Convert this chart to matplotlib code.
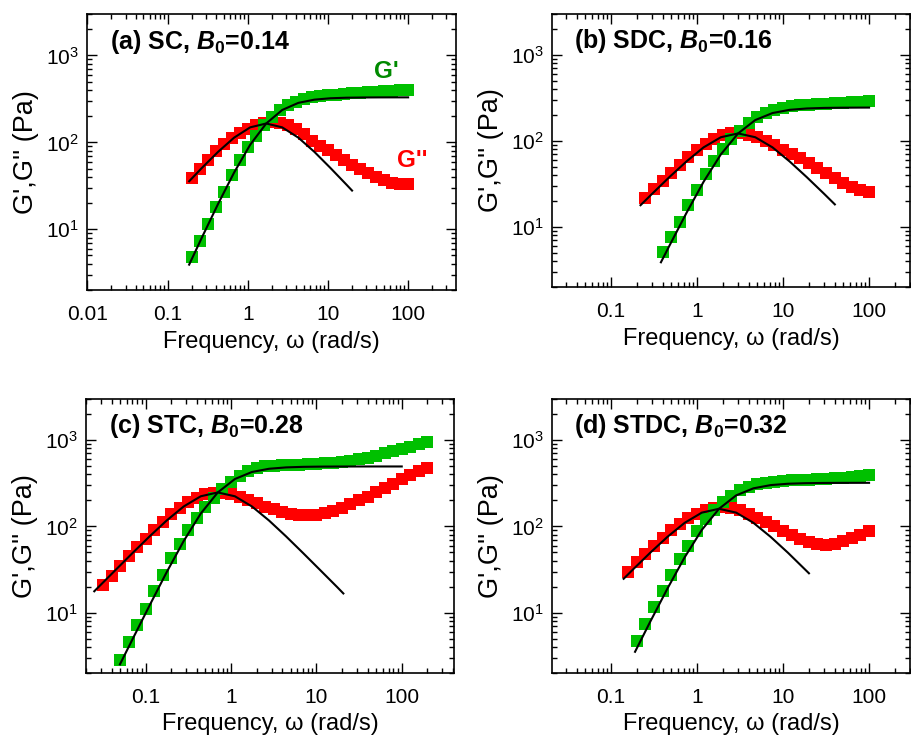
import matplotlib
import matplotlib.pyplot as plt
from matplotlib.ticker import FixedLocator, FuncFormatter, LogLocator, NullFormatter

matplotlib.use('Agg')

plt.rcParams['font.family'] = ['Liberation Sans', 'DejaVu Sans']
plt.rcParams['mathtext.fontset'] = 'custom'
plt.rcParams['mathtext.rm'] = 'Liberation Sans'
plt.rcParams['mathtext.it'] = 'Liberation Sans:italic'
plt.rcParams['mathtext.bf'] = 'Liberation Sans:bold'
plt.rcParams['mathtext.bfit'] = 'Liberation Sans:italic:bold'

# ---- (a) SC ----
w_a = [0.2, 0.251, 0.316, 0.398, 0.501, 0.631, 0.794, 1.0, 1.26, 1.58, 2.0, 2.51, 3.16, 3.98,
       5.01, 6.31, 7.94, 10, 12.6, 15.8, 20, 25.1, 31.6, 39.8, 50.1, 63.1, 79.4, 100]
gp_a = [4.8, 7.4, 11.5, 18, 27, 42, 62, 88, 120, 157, 196, 234, 268, 295,
        315, 330, 340, 348, 355, 362, 368, 374, 379, 384, 389, 393, 397, 402]
gpp_a = [39, 50, 63, 79, 97, 113, 128, 144, 157, 166, 171, 166, 157, 141,
         124, 105, 92, 81, 71, 62, 55, 50, 45, 40, 36.5, 34, 33, 33]
fit_w_gp_a = [0.186, 0.269, 0.427, 0.677, 1.073, 1.7, 2.69, 4.27, 6.77, 10.7, 17.0, 26.9, 42.7, 67.7, 100]
fit_gp_a = [3.92, 8.09, 19.6, 45.1, 94.0, 165, 236, 284.9, 310.4, 321.9, 326.7, 328.7, 329.5, 329.8, 329.9]
fit_w_gpp_a = [0.186, 0.269, 0.427, 0.677, 1.073, 1.7, 2.69, 4.27, 6.77, 10.7, 17.0, 20]
fit_gpp_a = [35.7, 51.0, 77.9, 113.5, 149.0, 165, 149.0, 113.5, 77.9, 51.0, 32.7, 27.9]

# ---- (b) SDC ----
w_gp_b = [0.398, 0.501, 0.631, 0.794, 1.0, 1.26, 1.58, 2.0, 2.51, 3.16, 3.98, 5.01, 6.31,
          7.94, 10, 12.6, 15.8, 20, 25.1, 31.6, 39.8, 50.1, 63.1, 79.4, 100]
gp_b = [5.1, 7.7, 11.5, 17.9, 27, 41, 59, 81, 105, 131, 161, 188, 212,
        230, 243, 252, 259, 264, 268, 272, 276, 280, 284, 288, 292]
w_gpp_b = [0.251, 0.316, 0.398, 0.501, 0.631, 0.794, 1.0, 1.26, 1.58, 2.0, 2.51, 3.16, 3.98, 5.01,
           6.31, 7.94, 10, 12.6, 15.8, 20, 25.1, 31.6, 39.8, 50.1, 63.1, 79.4, 100]
gpp_b = [21.7, 27.3, 34, 42.6, 52.6, 64.5, 79, 92, 105, 117, 124, 124, 117, 110,
         101, 90, 79, 71, 63, 56, 49, 42.7, 37, 32.7, 29, 26.6, 25.4]
fit_w_gp_b = [0.38, 0.475, 0.754, 1.19, 1.89, 3.0, 4.75, 7.54, 11.9, 18.9, 30, 47.5, 75.4, 100]
fit_gp_b = [3.88, 6.0, 14.6, 33.5, 69.8, 122.5, 175.2, 211.5, 230.4, 239.0, 242.6, 244.0, 244.6, 244.8]
fit_w_gpp_b = [0.22, 0.30, 0.475, 0.754, 1.19, 1.89, 3.0, 4.75, 7.54, 11.9, 18.9, 30, 40]
fit_gpp_b = [17.9, 24.3, 37.9, 57.9, 84.3, 110.6, 122.5, 110.6, 84.3, 57.9, 37.9, 24.3, 18.3]

# ---- (c) STC ----
w_gp_c = [0.0501, 0.0631, 0.0794, 0.1, 0.126, 0.158, 0.2, 0.251, 0.316, 0.398, 0.501, 0.631, 0.794,
          1.0, 1.26, 1.58, 2.0, 2.51, 3.16, 3.98, 5.01, 6.31, 7.94, 10, 12.6, 15.8, 20, 25.1,
          31.6, 39.8, 50.1, 63.1, 79.4, 100, 126, 158, 200]
gp_c = [2.84, 4.6, 7.1, 11.1, 17.7, 27.6, 42.5, 63, 92, 126, 169, 216, 274,
        327, 385, 433, 469, 495, 502, 508, 513, 518, 524, 530, 538, 548, 560, 578,
        600, 628, 662, 700, 745, 790, 840, 895, 955]
w_gpp_c = [0.0316, 0.0398, 0.0501, 0.0631, 0.0794, 0.1, 0.126, 0.158, 0.2, 0.251, 0.316, 0.398, 0.501,
           0.631, 0.794, 1.0, 1.26, 1.58, 2.0, 2.51, 3.16, 3.98, 5.01, 6.31, 7.94, 10, 12.6,
           15.8, 20, 25.1, 31.6, 39.8, 50.1, 63.1, 79.4, 100, 126, 158, 200]
gpp_c = [21.2, 26.4, 35, 45, 58, 72, 91, 113, 138, 165, 192, 216, 236,
         246, 246, 236, 221, 202, 185, 168, 158, 148, 141, 137, 135, 137, 142,
         152, 165, 182, 200, 222, 248, 278, 310, 350, 395, 440, 480]
fit_w_gp_c = [0.05, 0.07, 0.111, 0.176, 0.279, 0.442, 0.7, 1.11, 1.76, 2.79, 4.42, 7.0, 11.1,
              17.6, 27.9, 44.2, 100]
fit_gp_c = [2.52, 4.90, 12.1, 29.4, 67.7, 140.9, 247.5, 354.1, 427.3, 465.6, 482.9, 490.1, 493.0,
            494.2, 494.7, 495, 495]
fit_w_gpp_c = [0.025, 0.0442, 0.07, 0.111, 0.176, 0.279, 0.442, 0.7, 1.11, 1.76, 2.79, 4.42, 7.0,
               11.1, 17.6, 20.7]
fit_gpp_c = [17.7, 31.1, 49.0, 76.5, 116.9, 170.2, 223.4, 247.5, 223.4, 170.2, 116.9, 76.5, 49.0,
             31.1, 19.7, 16.7]

# ---- (d) STDC ----
w_gp_d = [0.2, 0.251, 0.316, 0.398, 0.501, 0.631, 0.794, 1.0, 1.26, 1.58, 2.0, 2.51, 3.16, 3.98,
          5.01, 6.31, 7.94, 10, 12.6, 15.8, 20, 25.1, 31.6, 39.8, 50.1, 63.1, 79.4, 100]
gp_d = [4.7, 7.3, 11.5, 17.8, 27, 41.5, 60, 88, 121, 153, 191, 228, 261, 290,
        312, 322, 330, 337, 341, 345, 349, 352, 356, 360, 365, 372, 380, 390]
w_gpp_d = [0.158, 0.2, 0.251, 0.316, 0.398, 0.501, 0.631, 0.794, 1.0, 1.26, 1.58, 2.0, 2.51, 3.16,
           3.98, 5.01, 6.31, 7.94, 10, 12.6, 15.8, 20, 25.1, 31.6, 39.8, 50.1, 63.1, 79.4, 100]
gpp_d = [30, 38.7, 48, 58.6, 73, 90, 108, 125, 140, 153, 163, 167, 163, 153,
         140, 126, 112, 100, 88, 79, 71, 66, 62, 61.5, 63, 68, 73, 80, 88]
fit_w_gp_d = [0.19, 0.285, 0.452, 0.717, 1.136, 1.8, 2.85, 4.52, 7.17, 11.4, 18, 28.5, 45.2, 100]
fit_gp_d = [3.52, 7.84, 19.0, 43.8, 91.1, 160, 228.9, 276.2, 301.0, 312.2, 316.8, 318.7, 319.5, 320]
fit_w_gpp_d = [0.14, 0.18, 0.285, 0.452, 0.717, 1.136, 1.8, 2.85, 4.52, 7.17, 11.4, 20]
fit_gpp_d = [24.7, 31.7, 49.5, 75.6, 110.0, 144.4, 160, 144.4, 110.0, 75.6, 49.5, 28.6]

titles = [r'(a) SC, $\mathbfit{B}_{\mathbf{0}}$=0.14', r'(b) SDC, $\mathbfit{B}_{\mathbf{0}}$=0.16',
          r'(c) STC, $\mathbfit{B}_{\mathbf{0}}$=0.28', r'(d) STDC, $\mathbfit{B}_{\mathbf{0}}$=0.32']

panels = [
    (w_a, gp_a, w_a, gpp_a, fit_w_gp_a, fit_gp_a, fit_w_gpp_a, fit_gpp_a),
    (w_gp_b, gp_b, w_gpp_b, gpp_b, fit_w_gp_b, fit_gp_b, fit_w_gpp_b, fit_gpp_b),
    (w_gp_c, gp_c, w_gpp_c, gpp_c, fit_w_gp_c, fit_gp_c, fit_w_gpp_c, fit_gpp_c),
    (w_gp_d, gp_d, w_gpp_d, gpp_d, fit_w_gp_d, fit_gp_d, fit_w_gpp_d, fit_gpp_d),
]

boxes = [[0.0955, 0.6054, 0.405, 0.3755],
         [0.606, 0.6095, 0.393, 0.3714],
         [0.0944, 0.0844, 0.404, 0.3728],
         [0.606, 0.0844, 0.393, 0.3728]]
xlims = [(0.0099, 395), (0.0206, 300), (0.02, 410), (0.0206, 300)]

GREEN = '#00c000'
RED = '#ff0000'

fig = plt.figure(figsize=(9.11, 7.35), dpi=100)

for i, (wgp, gp, wgpp, gpp, fwgp, fgp, fwgpp, fgpp) in enumerate(panels):
    ax = fig.add_axes(boxes[i])
    ax.plot(wgpp, gpp, 's', color=RED, ms=8.3, mew=0)
    ax.plot(wgp, gp, 's', color=GREEN, ms=8.3, mew=0)
    ax.plot(fwgp, fgp, '-', color='black', lw=1.5)
    ax.plot(fwgpp, fgpp, '-', color='black', lw=1.5)

    ax.set_xscale('log')
    ax.set_yscale('log')
    ax.set_xlim(*xlims[i])
    ax.set_ylim(2, 3000)

    ax.xaxis.set_major_locator(FixedLocator([0.01, 0.1, 1, 10, 100]))
    ax.xaxis.set_major_formatter(FuncFormatter(lambda v, p: '%g' % v))
    ax.xaxis.set_minor_locator(LogLocator(base=10, subs=range(2, 10)))
    ax.xaxis.set_minor_formatter(NullFormatter())
    ax.yaxis.set_minor_locator(LogLocator(base=10, subs=range(2, 10)))
    ax.yaxis.set_minor_formatter(NullFormatter())

    ax.tick_params(which='both', direction='in', top=True, right=True, width=1.0)
    ax.tick_params(which='major', length=7, labelsize=15)
    ax.tick_params(axis='x', which='major', pad=11)
    ax.tick_params(axis='y', which='major', pad=6)
    ax.tick_params(which='minor', length=3.5)
    for s in ax.spines.values():
        s.set_linewidth(1.2)

    ax.set_xlabel('Frequency, \u03c9 (rad/s)', fontsize=17, labelpad=4.5)
    ax.set_ylabel("G',G'' (Pa)", fontsize=19.5, labelpad=5)
    ax.text(0.062, 0.90, titles[i], transform=ax.transAxes, fontsize=18,
            fontweight='bold', ha='left', va='center')

    if i == 0:
        ax.text(53, 660, "G'", color='#008a00', fontsize=17.5, fontweight='bold', ha='center', va='center')
        ax.text(112, 62, "G''", color=RED, fontsize=17.5, fontweight='bold', ha='center', va='center')

fig.savefig('out.png', dpi=100)
